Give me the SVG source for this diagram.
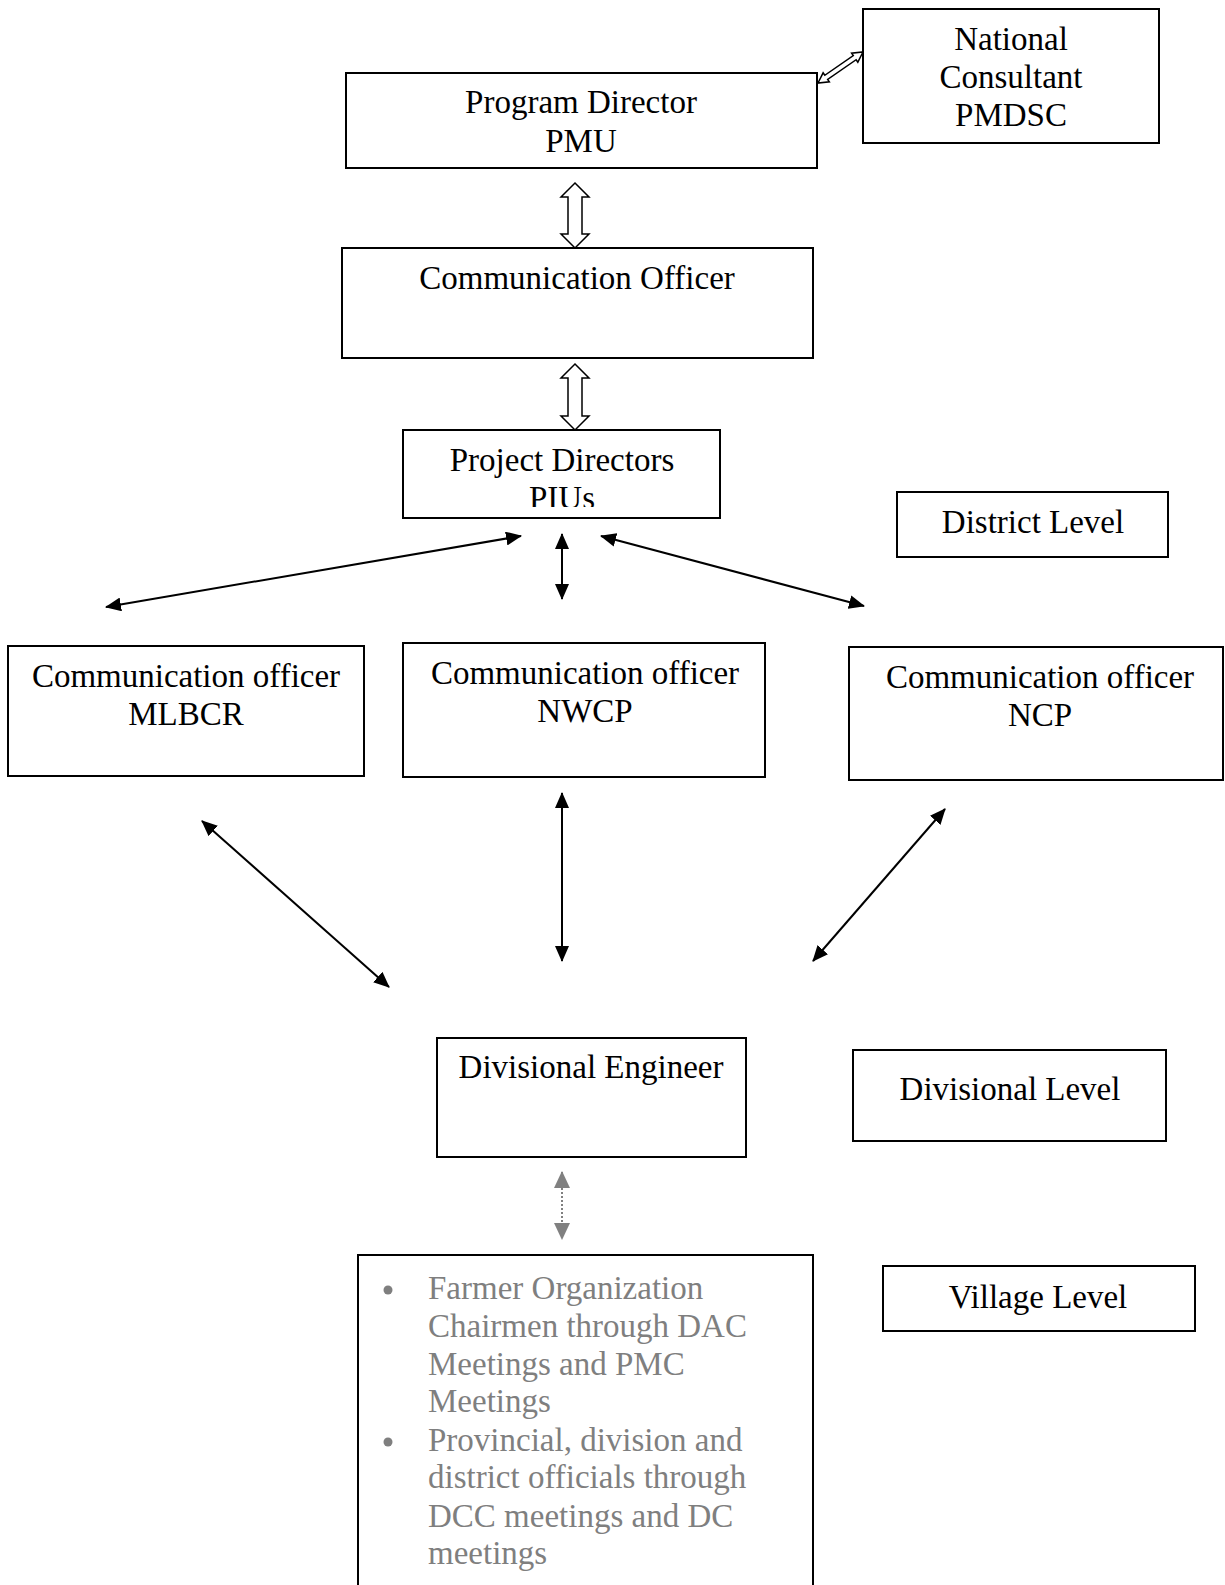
<svg xmlns="http://www.w3.org/2000/svg" width="1225" height="1585" viewBox="0 0 1225 1585">
<style>
.box{fill:#fff;stroke:#000;stroke-width:2}
.t{font-family:"Liberation Serif","Times New Roman",serif;font-size:33px;fill:#000;text-anchor:middle}
.g{font-family:"Liberation Serif","Times New Roman",serif;font-size:33px;fill:#7f7f7f}
.ln{stroke:#000;stroke-width:2;fill:none;marker-start:url(#ah);marker-end:url(#ah)}
.hollow{fill:#fff;stroke:#000;stroke-width:1.5;stroke-linejoin:miter}
</style>
<defs>
<marker id="ah" markerUnits="userSpaceOnUse" markerWidth="16" markerHeight="14" refX="15" refY="7" orient="auto-start-reverse">
<path d="M0,0 L16,7 L0,14 Z" fill="#000"/>
</marker>
<marker id="gh" markerUnits="userSpaceOnUse" markerWidth="17" markerHeight="16" refX="16" refY="8" orient="auto-start-reverse">
<path d="M0,0 L17,8 L0,16 Z" fill="#808080"/>
</marker>
<clipPath id="piuclip"><rect x="403" y="430" width="317" height="77"/></clipPath>
</defs>
<rect width="1225" height="1585" fill="#fff"/>

<g id="connectors">
<polygon class="hollow" transform="translate(818,83) rotate(-34.6)" points="0,0 10,-5.5 10,-2.5 44.6,-2.5 44.6,-5.5 54.6,0 44.6,5.5 44.6,2.5 10,2.5 10,5.5"/>
<polygon class="hollow" points="575,183 589,197 582,197 582,234 589,234 575,248 561,234 568,234 568,197 561,197"/>
<polygon class="hollow" points="575,364 589,378 582,378 582,416 589,416 575,430 561,416 568,416 568,378 561,378"/>
<line class="ln" x1="106" y1="607" x2="521" y2="536"/>
<line class="ln" x1="562" y1="534" x2="562" y2="599"/>
<line class="ln" x1="601" y1="536" x2="864" y2="606"/>
<line class="ln" x1="202" y1="821" x2="389" y2="987"/>
<line class="ln" x1="562" y1="793" x2="562" y2="961"/>
<line class="ln" x1="945" y1="809" x2="813" y2="961"/>
<line x1="562" y1="1172" x2="562" y2="1239" stroke="#808080" stroke-width="2" stroke-dasharray="2,2" marker-start="url(#gh)" marker-end="url(#gh)"/>
</g>

<g id="national-consultant">
<rect class="box" x="863" y="9" width="296" height="134"/>
<text class="t" x="1011" y="50">National</text>
<text class="t" x="1011" y="88">Consultant</text>
<text class="t" x="1011" y="126">PMDSC</text>
</g>

<g id="program-director">
<rect class="box" x="346" y="73" width="471" height="95"/>
<text class="t" x="581" y="113">Program Director</text>
<text class="t" x="581" y="152">PMU</text>
</g>

<g id="communication-officer">
<rect class="box" x="342" y="248" width="471" height="110"/>
<text class="t" x="577" y="289">Communication Officer</text>
</g>

<g id="project-directors">
<rect class="box" x="403" y="430" width="317" height="88"/>
<text class="t" x="562" y="471">Project Directors</text>
<text class="t" x="562" y="509" clip-path="url(#piuclip)">PIUs</text>
</g>

<g id="district-level">
<rect class="box" x="897" y="492" width="271" height="65"/>
<text class="t" x="1033" y="533">District Level</text>
</g>

<g id="co-mlbcr">
<rect class="box" x="8" y="646" width="356" height="130"/>
<text class="t" x="186" y="687">Communication officer</text>
<text class="t" x="186" y="725">MLBCR</text>
</g>

<g id="co-nwcp">
<rect class="box" x="403" y="643" width="362" height="134"/>
<text class="t" x="585" y="684">Communication officer</text>
<text class="t" x="585" y="722">NWCP</text>
</g>

<g id="co-ncp">
<rect class="box" x="849" y="647" width="374" height="133"/>
<text class="t" x="1040" y="688">Communication officer</text>
<text class="t" x="1040" y="726">NCP</text>
</g>

<g id="divisional-engineer">
<rect class="box" x="437" y="1038" width="309" height="119"/>
<text class="t" x="591" y="1078">Divisional Engineer</text>
</g>

<g id="divisional-level">
<rect class="box" x="853" y="1050" width="313" height="91"/>
<text class="t" x="1010" y="1100">Divisional Level</text>
</g>

<g id="village-box">
<rect class="box" x="358" y="1255" width="455" height="360"/>
<circle cx="388" cy="1290" r="4.5" fill="#7f7f7f"/>
<circle cx="388" cy="1442" r="4.5" fill="#7f7f7f"/>
<text class="g" x="428" y="1299">Farmer Organization</text>
<text class="g" x="428" y="1337">Chairmen through DAC</text>
<text class="g" x="428" y="1375">Meetings and PMC</text>
<text class="g" x="428" y="1412">Meetings</text>
<text class="g" x="428" y="1451">Provincial, division and</text>
<text class="g" x="428" y="1488">district officials through</text>
<text class="g" x="428" y="1527">DCC meetings and DC</text>
<text class="g" x="428" y="1564">meetings</text>
</g>

<g id="village-level">
<rect class="box" x="883" y="1266" width="312" height="65"/>
<text class="t" x="1038" y="1308">Village Level</text>
</g>
</svg>
